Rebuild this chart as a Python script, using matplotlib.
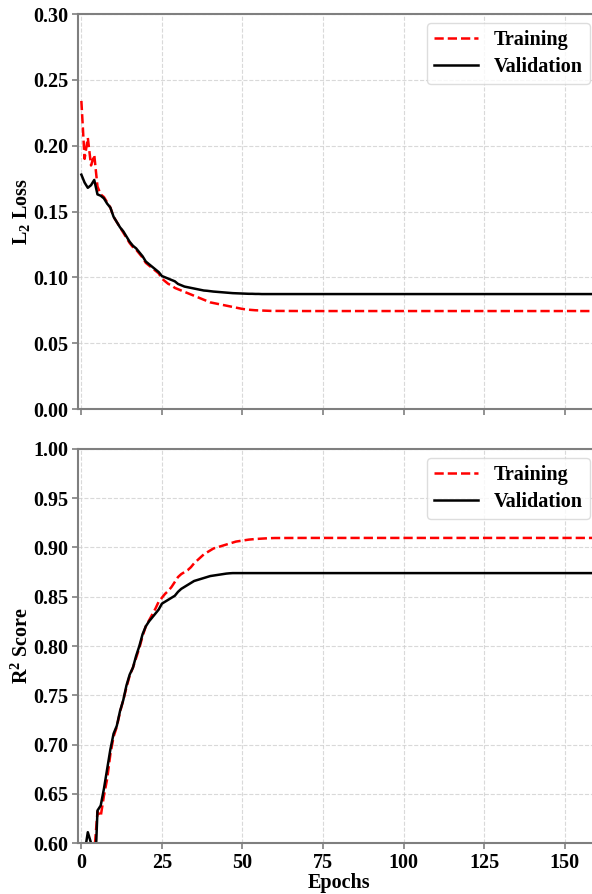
import matplotlib
matplotlib.use("Agg")
import matplotlib.pyplot as plt
from matplotlib.ticker import FormatStrFormatter

plt.rcParams["font.family"] = ["Liberation Serif", "DejaVu Serif"]
plt.rcParams["font.weight"] = "bold"
plt.rcParams["mathtext.fontset"] = "custom"
plt.rcParams["mathtext.rm"] = "Liberation Serif:bold"
plt.rcParams["mathtext.it"] = "Liberation Serif:bold"
plt.rcParams["mathtext.bf"] = "Liberation Serif:bold"

FS = 14.5

# epochs: every epoch up to 60, then the flat tail
epochs = list(range(61)) + [70, 80, 90, 100, 110, 120, 130, 140, 150, 160]

train_loss = [0.234, 0.190, 0.206, 0.185, 0.193, 0.169, 0.163, 0.161, 0.157, 0.153,
              0.146, 0.142, 0.138, 0.134, 0.130, 0.126, 0.123, 0.121, 0.118, 0.115,
              0.111, 0.109, 0.107, 0.105, 0.103, 0.099, 0.097, 0.095, 0.094, 0.092,
              0.091, 0.090, 0.089, 0.088, 0.087, 0.086, 0.085, 0.084, 0.083, 0.082,
              0.081, 0.0805, 0.080, 0.0795, 0.079, 0.0785, 0.078, 0.0775, 0.077, 0.0765,
              0.076, 0.0757, 0.0754, 0.0752, 0.0750, 0.0749, 0.0748, 0.0747, 0.0746, 0.0745,
              0.0745, 0.0744, 0.0744, 0.0744, 0.0744, 0.0744, 0.0744, 0.0744, 0.0744, 0.0744,
              0.0744]
val_loss = [0.178, 0.172, 0.168, 0.170, 0.174, 0.163, 0.162, 0.160, 0.156, 0.153,
            0.146, 0.142, 0.138, 0.135, 0.131, 0.127, 0.124, 0.122, 0.119, 0.116,
            0.112, 0.110, 0.108, 0.106, 0.104, 0.101, 0.100, 0.099, 0.098, 0.097,
            0.095, 0.094, 0.093, 0.0925, 0.092, 0.0915, 0.091, 0.0905, 0.090, 0.0898,
            0.0895, 0.0892, 0.089, 0.0888, 0.0886, 0.0884, 0.0882, 0.088, 0.0879, 0.0878,
            0.0877, 0.0876, 0.0875, 0.0875, 0.0874, 0.0874, 0.0873, 0.0873, 0.0873, 0.0873,
            0.0873, 0.0873, 0.0873, 0.0873, 0.0873, 0.0873, 0.0873, 0.0873, 0.0873, 0.0873,
            0.0873]

train_r2 = [0.52, 0.55, 0.57, 0.58, 0.59, 0.632, 0.627, 0.648, 0.665, 0.690,
            0.708, 0.718, 0.733, 0.745, 0.758, 0.770, 0.778, 0.788, 0.798, 0.810,
            0.820, 0.826, 0.832, 0.838, 0.845, 0.849, 0.853, 0.856, 0.860, 0.865,
            0.870, 0.873, 0.875, 0.877, 0.880, 0.884, 0.887, 0.890, 0.893, 0.895,
            0.897, 0.899, 0.900, 0.901, 0.902, 0.903, 0.904, 0.905, 0.906, 0.9065,
            0.907, 0.9075, 0.908, 0.9083, 0.9086, 0.9088, 0.909, 0.9092, 0.9094, 0.9095,
            0.9096, 0.9097, 0.9097, 0.9097, 0.9097, 0.9097, 0.9097, 0.9097, 0.9097, 0.9097,
            0.9097]
val_r2 = [0.58, 0.59, 0.611, 0.600, 0.55, 0.633, 0.638, 0.655, 0.675, 0.695,
          0.711, 0.719, 0.734, 0.745, 0.760, 0.771, 0.778, 0.790, 0.800, 0.812,
          0.820, 0.825, 0.829, 0.833, 0.837, 0.843, 0.845, 0.847, 0.849, 0.851,
          0.855, 0.858, 0.860, 0.862, 0.864, 0.866, 0.867, 0.868, 0.869, 0.870,
          0.871, 0.8715, 0.872, 0.8725, 0.873, 0.8735, 0.8738, 0.874, 0.874, 0.874,
          0.874, 0.874, 0.874, 0.874, 0.874, 0.874, 0.874, 0.874, 0.874, 0.874,
          0.874, 0.874, 0.874, 0.874, 0.874, 0.874, 0.874, 0.874, 0.874, 0.874,
          0.874]

x_ticks = [0, 25, 50, 75, 100, 125, 150]
loss_ticks = [0.00, 0.05, 0.10, 0.15, 0.20, 0.25, 0.30]
r2_ticks = [0.60, 0.65, 0.70, 0.75, 0.80, 0.85, 0.90, 0.95, 1.00]

SPINE = "#7f7f7f"

fig = plt.figure(figsize=(5.92, 8.94), dpi=100)
ax1 = fig.add_axes([0.132, 0.5425, 0.880, 0.4418])
ax2 = fig.add_axes([0.132, 0.057, 0.880, 0.4408], sharex=ax1)


def style(ax):
    for s in ax.spines.values():
        s.set_color(SPINE)
        s.set_linewidth(1.5)
    ax.tick_params(axis="both", colors=SPINE, width=1.2, length=4, pad=3,
                   labelcolor="black", labelsize=FS)
    for lab in ax.get_xticklabels() + ax.get_yticklabels():
        lab.set_fontweight("bold")
    ax.grid(True, linestyle="--", color="#d0d0d0", linewidth=0.8, alpha=0.8)
    ax.set_axisbelow(True)


ax1.plot(epochs, train_loss, color="red", linestyle="--", linewidth=1.8, label="Training")
ax1.plot(epochs, val_loss, color="black", linewidth=1.8, label="Validation")
ax1.set_ylim(0.0, 0.30)
ax1.set_yticks(loss_ticks)
ax1.yaxis.set_major_formatter(FormatStrFormatter("%.2f"))
ax1.set_ylabel(r"L$_2$ Loss", fontsize=FS, fontweight="bold", labelpad=0.5)
ax1.tick_params(labelbottom=False)

ax2.plot(epochs, train_r2, color="red", linestyle="--", linewidth=1.8, label="Training")
ax2.plot(epochs, val_r2, color="black", linewidth=1.8, label="Validation")
ax2.set_ylim(0.60, 1.00)
ax2.set_yticks(r2_ticks)
ax2.yaxis.set_major_formatter(FormatStrFormatter("%.2f"))
ax2.set_ylabel(r"R$^2$ Score", fontsize=FS, fontweight="bold", labelpad=0.5)
ax2.set_xlabel("Epochs", fontsize=FS, fontweight="bold", labelpad=0)

ax2.set_xlim(-1, 160.7)
ax2.set_xticks(x_ticks)

for ax in (ax1, ax2):
    style(ax)
    leg = ax.legend(loc="upper right", prop={"weight": "bold", "size": FS},
                    handlelength=2.2, framealpha=0.8, borderaxespad=0.45,
                    borderpad=0.35, labelspacing=0.35)
    leg.get_frame().set_edgecolor("#d5d5d5")

fig.savefig("out.png", dpi=100)
